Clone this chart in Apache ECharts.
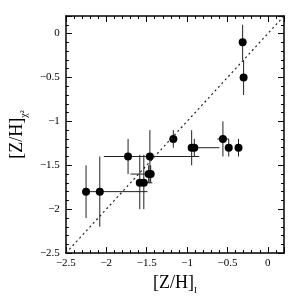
<!DOCTYPE html>
<html>
<head>
<meta charset="utf-8">
<script src="https://cdn.jsdelivr.net/npm/echarts@6/dist/echarts.min.js"></script>
<style>html,body{margin:0;padding:0;background:#fff}#c{width:300px;height:300px}</style>
</head>
<body>
<div id="c"></div>
<script>
// Data
var xVals  = [-2.25, -2.08, -1.73, -1.46, -1.475, -1.45, -1.585, -1.535, -1.17, -0.943, -0.91, -0.556, -0.484, -0.363, -0.312, -0.30];
var yVals  = [-1.8,  -1.8,  -1.4,  -1.4,  -1.6,   -1.6,  -1.7,   -1.7,   -1.2,  -1.3,   -1.3,  -1.2,   -1.3,   -1.3,   -0.1,   -0.5];
var xLow   = [-2.25, -2.25, -1.73, -2.03, -1.70,  -1.45, -1.585, -1.535, -1.22, -0.943, -0.91, -0.626, -0.484, -0.363, -0.312, -0.33];
var xHigh  = [-2.25, -1.49, -1.73, -0.85, -1.475, -1.45, -1.585, -1.43,  -1.12, -0.943, -0.60, -0.486, -0.484, -0.363, -0.312, -0.27];
var yLow   = [-2.1,  -2.2,  -1.6,  -1.7,  -1.7,   -1.7,  -2.0,   -2.0,   -1.3,  -1.5,   -1.4,  -1.4,   -1.4,   -1.4,   -0.3,   -0.7];
var yHigh  = [-1.5,  -1.4,  -1.2,  -1.1,  -1.5,   -1.5,  -1.38,  -1.38,  -1.1,  -1.1,   -1.2,  -1.0,   -1.2,   -1.2,   0.1,    -0.3];
var diagonal = [[-2.5, -2.5], [0.2, 0.2]];
var axisMin = -2.5, axisMax = 0.2, axisStep = 0.5;

var pts = [], bars = [];
for (var i = 0; i < xVals.length; i++) {
  pts.push([xVals[i], yVals[i]]);
  bars.push([xVals[i], yVals[i], xLow[i], xHigh[i], yLow[i], yHigh[i]]);
}

var FONT = 'Liberation Serif';
function fmt(v) {
  var r = Math.round(v / axisStep) * axisStep;
  if (Math.abs(r - v) > 1e-6) return '';
  var s = String(Math.round(v * 10) / 10);
  return s.replace('-', '\u2212');
}
function mkAxis(extra) {
  var a = {
    type: 'value', min: axisMin, max: axisMax, interval: axisStep,
    axisLine: { show: true, onZero: false, lineStyle: { color: '#000', width: 1.5 } },
    axisTick: { show: true, inside: true, length: 6, lineStyle: { color: '#000', width: 1 } },
    minorTick: { show: true, splitNumber: 5, length: 3, lineStyle: { color: '#000', width: 1 } },
    splitLine: { show: false },
    minorSplitLine: { show: false },
    axisLabel: { show: true, formatter: fmt, fontFamily: FONT, fontSize: 11, color: '#000' }
  };
  for (var k in extra) a[k] = extra[k];
  return a;
}

var chart = echarts.init(document.getElementById('c'), null, { renderer: 'canvas' });
chart.setOption({
  animation: false,
  grid: { left: 33, top: 16, right: 16, bottom: 33 },
  xAxis: [
    mkAxis({ position: 'bottom',
      axisLabel: { show: true, formatter: fmt, fontFamily: FONT, fontSize: 11, color: '#000', margin: 5 },
      name: '{a|[Z/H]}{s|I}', nameLocation: 'middle', nameGap: 15,
      nameTextStyle: { rich: {
        a: { fontFamily: FONT, fontSize: 18, color: '#000', verticalAlign: 'bottom' },
        s: { fontFamily: FONT, fontSize: 9, color: '#000', verticalAlign: 'bottom', padding: [0, 0, -3, 0] }
      } } }),
    mkAxis({ position: 'top', axisLabel: { show: false } })
  ],
  yAxis: [
    mkAxis({ position: 'left',
      axisLabel: { show: true, formatter: fmt, fontFamily: FONT, fontSize: 11, color: '#000', margin: 6 },
      name: '{a|[Z/H]}{s|\u03c7\u00b2}', nameLocation: 'middle', nameGap: 21, nameRotate: 90,
      nameTextStyle: { rich: {
        a: { fontFamily: FONT, fontSize: 18, color: '#000', verticalAlign: 'bottom' },
        s: { fontFamily: FONT, fontSize: 10, color: '#000', verticalAlign: 'bottom', padding: [0, 0, -3, 0] }
      } } }),
    mkAxis({ position: 'right', axisLabel: { show: false } })
  ],
  series: [
    {
      type: 'line', data: diagonal, xAxisIndex: 0, yAxisIndex: 0,
      symbol: 'none', silent: true,
      lineStyle: { color: '#222', width: 1.2, type: [2, 3] }
    },
    {
      type: 'custom', xAxisIndex: 0, yAxisIndex: 0, clip: true,
      data: bars,
      renderItem: function (params, api) {
        var x = api.value(0), y = api.value(1);
        var xl = api.value(2), xh = api.value(3), yl = api.value(4), yh = api.value(5);
        var children = [];
        var st = { stroke: '#222', lineWidth: 1 };
        if (yl !== yh) {
          var p1 = api.coord([x, yl]), p2 = api.coord([x, yh]);
          children.push({ type: 'line', shape: { x1: p1[0], y1: p1[1], x2: p2[0], y2: p2[1] }, style: st });
        }
        if (xl !== xh) {
          var q1 = api.coord([xl, y]), q2 = api.coord([xh, y]);
          children.push({ type: 'line', shape: { x1: q1[0], y1: q1[1], x2: q2[0], y2: q2[1] }, style: st });
        }
        return { type: 'group', children: children };
      }
    },
    {
      type: 'scatter', data: pts, xAxisIndex: 0, yAxisIndex: 0,
      symbol: 'circle', symbolSize: 8,
      itemStyle: { color: '#000', opacity: 1 }
    }
  ]
});
</script>
</body>
</html>
